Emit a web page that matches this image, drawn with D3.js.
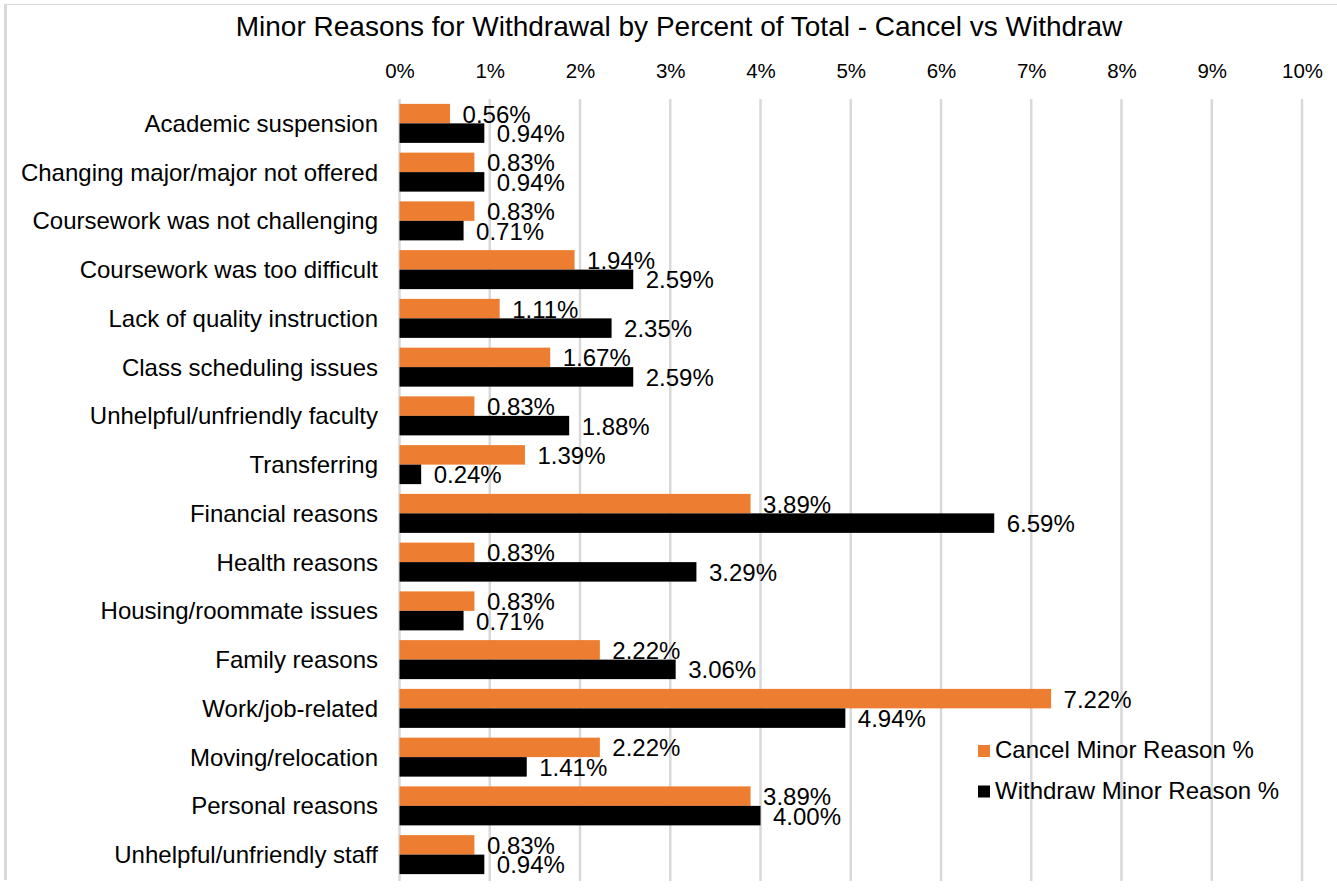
<!DOCTYPE html>
<html>
<head>
<meta charset="utf-8">
<script src="https://cdn.jsdelivr.net/npm/d3@7/dist/d3.min.js"></script>
<style>
  html, body { margin: 0; padding: 0; background: #fff; }
  svg { display: block; font-family: "Liberation Sans", Arial, sans-serif; }
</style>
</head>
<body>
<svg id="chart" width="1337" height="890"></svg>
<script>
// Minor withdrawal reasons, percent of total
const categories = [
  "Academic suspension",
  "Changing major/major not offered",
  "Coursework was not challenging",
  "Coursework was too difficult",
  "Lack of quality instruction",
  "Class scheduling issues",
  "Unhelpful/unfriendly faculty",
  "Transferring",
  "Financial reasons",
  "Health reasons",
  "Housing/roommate issues",
  "Family reasons",
  "Work/job-related",
  "Moving/relocation",
  "Personal reasons",
  "Unhelpful/unfriendly staff"
];
const cancelValues   = [0.56, 0.83, 0.83, 1.94, 1.11, 1.67, 0.83, 1.39, 3.89, 0.83, 0.83, 2.22, 7.22, 2.22, 3.89, 0.83];
const withdrawValues = [0.94, 0.94, 0.71, 2.59, 2.35, 2.59, 1.88, 0.24, 6.59, 3.29, 0.71, 3.06, 4.94, 1.41, 4.00, 0.94];
const seriesNames = ["Cancel Minor Reason %", "Withdraw Minor Reason %"];
const seriesColors = ["#ED7D31", "#000000"];
const xTicks = [0, 1, 2, 3, 4, 5, 6, 7, 8, 9, 10];
const chartTitle = "Minor Reasons for Withdrawal by Percent of Total - Cancel vs Withdraw";

const svg = d3.select("#chart");

// outer frame (top and left edges)
svg.append("line").attr("x1", 4).attr("x2", 1337).attr("y1", 4.5).attr("y2", 4.5)
  .attr("stroke", "#d9d9d9").attr("stroke-width", 1);
svg.append("line").attr("x1", 5.5).attr("x2", 5.5).attr("y1", 4).attr("y2", 880)
  .attr("stroke", "#d9d9d9").attr("stroke-width", 3);

const x = d3.scaleLinear().domain([0, 10]).range([399.5, 1302]);
const y = d3.scaleBand().domain(categories).range([99, 879]).paddingInner(0).paddingOuter(0);
const barGroup = y.bandwidth() * 0.8;
const sub = d3.scaleBand().domain([0, 1]).range([0, barGroup]);

// title
svg.append("text")
  .attr("x", 679).attr("y", 36)
  .attr("text-anchor", "middle")
  .attr("font-size", 28)
  .attr("fill", "#000")
  .text(chartTitle);

// gridlines
svg.append("g").selectAll("line").data(xTicks).join("line")
  .attr("x1", d => x(d)).attr("x2", d => x(d))
  .attr("y1", 99).attr("y2", 881)
  .attr("stroke", "#d9d9d9").attr("stroke-width", 2.5);

// top axis labels
const axis = svg.append("g")
  .attr("transform", "translate(0,78)")
  .call(d3.axisTop(x).tickValues(xTicks).tickFormat(d => d + "%").tickSize(0).tickPadding(0));
axis.select(".domain").remove();
axis.selectAll("text")
  .attr("font-size", 20.5)
  .attr("font-family", "'Liberation Sans', Arial, sans-serif")
  .attr("fill", "#000")
  .attr("dy", 0);

// category labels
svg.append("g").selectAll("text").data(categories).join("text")
  .attr("x", 378)
  .attr("y", d => y(d) + y.bandwidth() / 2)
  .attr("dy", "0.35em")
  .attr("text-anchor", "end")
  .attr("font-size", 24)
  .attr("fill", "#000")
  .text(d => d);

// bars + value labels
const seriesData = [cancelValues, withdrawValues];
seriesData.forEach((vals, si) => {
  const g = svg.append("g");
  const rows = categories.map((c, i) => ({ c, v: vals[i] }));
  const off = (y.bandwidth() - barGroup) / 2 + sub(si);
  g.selectAll("rect").data(rows).join("rect")
    .attr("x", x(0))
    .attr("y", d => y(d.c) + off)
    .attr("width", d => x(d.v) - x(0))
    .attr("height", sub.bandwidth())
    .attr("fill", seriesColors[si]);
  g.selectAll("text").data(rows).join("text")
    .attr("x", d => x(d.v) + 12.5)
    .attr("y", d => y(d.c) + off + sub.bandwidth() / 2 + 0.5)
    .attr("dy", "0.35em")
    .attr("font-size", 24)
    .attr("fill", "#000")
    .text(d => d.v.toFixed(2) + "%");
});

// legend
const legend = svg.append("g");
seriesNames.forEach((name, i) => {
  const ly = 745 + i * 40.5;
  legend.append("rect").attr("x", 978).attr("y", ly).attr("width", 12).attr("height", 12)
    .attr("fill", seriesColors[i]);
  legend.append("text").attr("x", 995).attr("y", ly + 13)
    .attr("font-size", 24).attr("fill", "#000").text(name);
});
</script>
</body>
</html>
